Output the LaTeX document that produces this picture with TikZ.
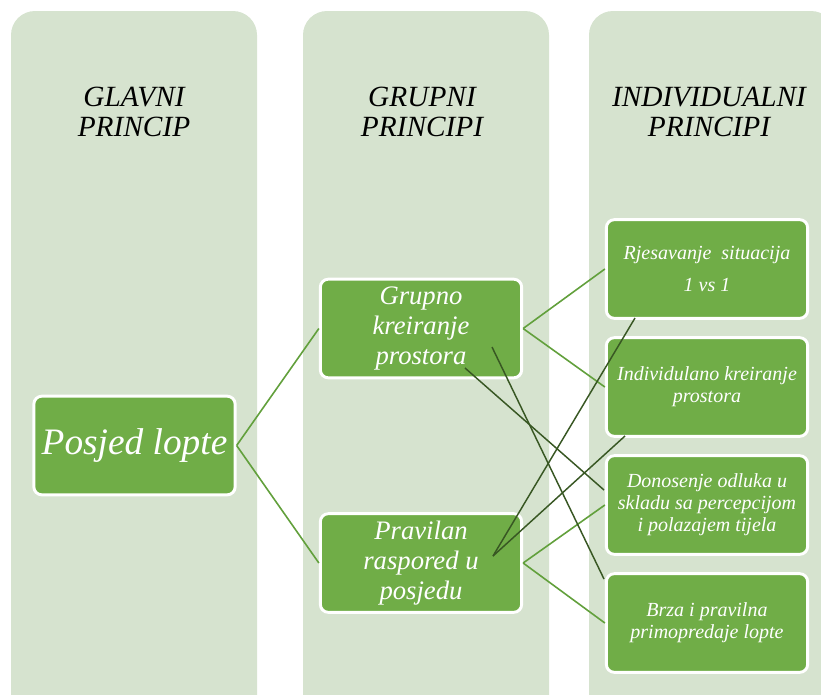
\documentclass[tikz,border=0pt]{standalone}
\usepackage{fontspec}
\setmainfont{Liberation Serif}
\definecolor{colbg}{HTML}{D6E3CF}
\definecolor{boxgreen}{HTML}{70AD47}
\definecolor{linegreen}{HTML}{62A03C}
\definecolor{darkgreen}{HTML}{385723}

\begin{document}
\begin{tikzpicture}[x=0.75pt,y=-0.75pt,
        column/.style={fill=colbg, rounded corners=18pt},
        head/.style={align=center, font=\fontsize{22}{23}\selectfont\itshape},
        box/.style={draw=white, line width=2.2pt, fill=boxgreen, rounded corners=6pt, text=white, align=center, minimum width=151pt, minimum height=74pt, inner sep=2pt},
        bigtext/.style={font=\fontsize{28}{30}\selectfont\itshape},
        midtext/.style={font=\fontsize{20}{22.5}\selectfont\itshape},
        smalltext/.style={font=\fontsize{15}{16.5}\selectfont\itshape},
        link/.style={draw=linegreen, line width=1.2pt},
        cross/.style={draw=darkgreen, line width=1.1pt}]
        \useasboundingbox (0,0) rectangle (821,694);
        \clip (0,0) rectangle (821,694);
        % columns
        \fill[column] (11,11) rectangle (257,730);
        \fill[column] (303,11) rectangle (549,730);
        \fill[column] (589,11) rectangle (835,730);
        \node[head] (hglavni) at (134,112) {GLAVNI\\PRINCIP};
        \node[head] (hgrupni) at (422,112) {GRUPNI\\PRINCIPI};
        \node[head] (hindiv) at (709,112) {INDIVIDUALNI\\PRINCIPI};
        % boxes
        \node[box, bigtext] (posjed) at (134.5,445.5) {Posjed lopte};
        \node[box, midtext] (grupno) at (421,328.5) {Grupno\\kreiranje\\prostora};
        \node[box, midtext] (pravilan) at (421,563) {Pravilan\\raspored u\\posjedu};
        \node[box, smalltext] (rjes) at (707,269) {Rjesavanje\ \ situacija\\[7pt]1 vs 1};
        \node[box, smalltext] (indiv) at (707,387) {Individulano kreiranje\\prostora};
        \node[box, smalltext] (donos) at (707,505) {Donosenje odluka u\\skladu sa percepcijom\\i polazajem tijela};
        \node[box, smalltext] (brza) at (707,623) {Brza i pravilna\\primopredaje lopte};
        % connectors
        \draw[link] (posjed.east) -- (grupno.west);
        \draw[link] (posjed.east) -- (pravilan.west);
        \draw[link] (grupno.east) -- (rjes.west);
        \draw[link] (grupno.east) -- (indiv.west);
        \draw[link] (pravilan.east) -- (donos.west);
        \draw[link] (pravilan.east) -- (brza.west);
        % crossing lines
        \coordinate (ga) at (492,347);
        \coordinate (gb) at (465,368);
        \coordinate (pa) at (493,556);
        \coordinate (rjesend) at (635,318);
        \coordinate (indivend) at (625,436);
        \coordinate (donosend) at (604,490);
        \coordinate (brzaend) at (604,579);
        \draw[cross] (ga) -- (brzaend);
        \draw[cross] (gb) -- (donosend);
        \draw[cross] (pa) -- (rjesend);
        \draw[cross] (pa) -- (indivend);
    \end{tikzpicture}
\end{document}
